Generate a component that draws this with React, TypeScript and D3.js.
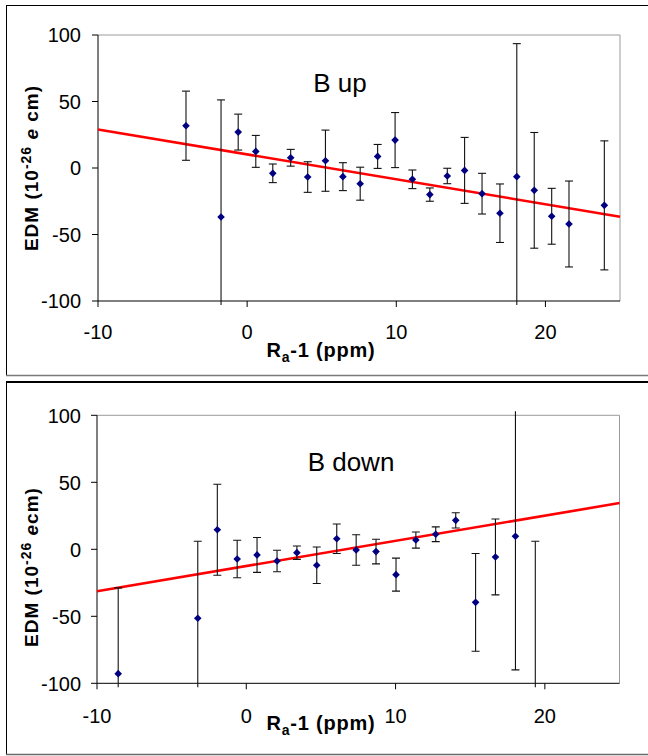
import * as d3 from "d3";

// --- data ------------------------------------------------------------------
const upX = [-4.1, -1.75, -0.6, 0.58, 1.72, 2.92, 4.06, 5.25, 6.42, 7.58, 8.75, 9.92, 11.08, 12.25, 13.42, 14.58, 15.75, 16.95, 18.08, 19.25, 20.42, 21.58, 23.95];
const upY = [31.8, -36.8, 27, 12.5, -4, 7.7, -6.8, 5.5, -6.5, -11.8, 8.7, 21, -8.5, -20, -6, -1.8, -19.3, -34, -6.5, -16.8, -36.3, -42.1, -28.1];
const upErr = [26, 88, 13.5, 12, 7, 6.3, 11.5, 23, 10.5, 12.4, 9, 20.7, 7, 5, 5.8, 24.8, 15.3, 22, 100, 43.5, 21, 32.3, 48.5];
const upFit: [number, number][] = [[-10, 29], [25, -36.6]];

const downX = [-8.58, -3.25, -1.94, -0.61, 0.72, 2.06, 3.39, 4.72, 6.06, 7.36, 8.69, 10.03, 11.36, 12.69, 14.03, 15.36, 16.69, 18.03, 19.36];
const downY = [-92.8, -51.5, 14.6, -7.2, -4.2, -8.7, -2.5, -11.9, 7.9, -0.5, -1.7, -18.9, 6.9, 11.2, 21.6, -39.6, -5.7, 9.7, -110];
const downErr = [64, 57.5, 34, 14, 13, 8, 5, 13.6, 11, 11.4, 9.2, 12.3, 6, 5.5, 5.7, 36.5, 28.3, 99.7, 116];
const downFit: [number, number][] = [[-10, -31.3], [25, 34.5]];

const xTicks = [-10, 0, 10, 20];
const yTicks = [100, 50, 0, -50, -100];
const X_DOMAIN: [number, number] = [-10, 25];
const Y_DOMAIN: [number, number] = [-100, 100];

const FONT = "Arial, 'Liberation Sans', sans-serif";
const MARKER = "#000080";
const CAP = 4; // half cap width
const DIAMOND = 4.3; // half diagonal

interface PanelProps {
  id: string;
  title: string;
  xs: number[];
  ys: number[];
  errs: number[];
  fit: [number, number][];
  plot: { l: number; r: number; t: number; b: number };
  titlePos: [number, number];
  yLabelY: number;
  unitSpace: boolean;
  tickRight: number;
  xTickBase: number;
  xLabelBase: number;
}

function Panel(p: PanelProps) {
  const x = d3.scaleLinear().domain(X_DOMAIN).range([p.plot.l, p.plot.r]);
  const y = d3.scaleLinear().domain(Y_DOMAIN).range([p.plot.b, p.plot.t]);
  const line = d3
    .line<[number, number]>()
    .x((d) => x(d[0]))
    .y((d) => y(d[1]));
  const diamond = d3.symbol(d3.symbolDiamond2, DIAMOND * DIAMOND * 2)();
  const inRange = (v: number) => v >= Y_DOMAIN[0] && v <= Y_DOMAIN[1];

  return (
    <g>
      <defs>
        <clipPath id={`clip-${p.id}`}>
          <rect
            x={p.plot.l - 10}
            y={p.plot.t - 4}
            width={p.plot.r - p.plot.l + 20}
            height={p.plot.b - p.plot.t + 8}
          />
        </clipPath>
      </defs>

      {/* plot area frame: grey top/right, black axes */}
      <line x1={p.plot.l} x2={p.plot.r} y1={p.plot.t} y2={p.plot.t} stroke="#9a9a9a" />
      <line x1={p.plot.r} x2={p.plot.r} y1={p.plot.t} y2={p.plot.b} stroke="#9a9a9a" />
      <line x1={p.plot.l} x2={p.plot.l} y1={p.plot.t} y2={p.plot.b} stroke="#000" />
      <line x1={p.plot.l} x2={p.plot.r} y1={p.plot.b} y2={p.plot.b} stroke="#000" />

      {yTicks.map((t) => (
        <g key={t}>
          <line x1={p.plot.l - 6} x2={p.plot.l} y1={y(t)} y2={y(t)} stroke="#000" />
          <text
            x={p.tickRight}
            y={y(t)}
            dy="0.36em"
            textAnchor="end"
            fontSize={20}
            fontFamily={FONT}
          >
            {t}
          </text>
        </g>
      ))}
      {xTicks.map((t) => (
        <g key={t}>
          <line x1={x(t)} x2={x(t)} y1={p.plot.b} y2={p.plot.b + 6} stroke="#000" />
          <text x={x(t)} y={p.xTickBase} textAnchor="middle" fontSize={20} fontFamily={FONT}>
            {t}
          </text>
        </g>
      ))}

      {/* fit line */}
      <path d={line(p.fit) ?? ""} stroke="#ff0000" strokeWidth={2.6} fill="none" />

      {/* error bars */}
      <g clipPath={`url(#clip-${p.id})`} stroke="#111" strokeWidth={1.1}>
        {p.xs.map((xv, i) => {
          const cx = x(xv);
          const hi = y(p.ys[i] + p.errs[i]);
          const lo = y(p.ys[i] - p.errs[i]);
          return (
            <g key={i}>
              <line x1={cx} x2={cx} y1={hi} y2={lo} />
              <line x1={cx - CAP} x2={cx + CAP} y1={hi} y2={hi} />
              <line x1={cx - CAP} x2={cx + CAP} y1={lo} y2={lo} />
            </g>
          );
        })}
      </g>

      {/* markers */}
      {p.xs.map((xv, i) =>
        inRange(p.ys[i]) ? (
          <path
            key={i}
            d={diamond ?? ""}
            transform={`translate(${x(xv)},${y(p.ys[i])})`}
            fill={MARKER}
          />
        ) : null,
      )}

      <text
        x={p.titlePos[0]}
        y={p.titlePos[1]}
        textAnchor="middle"
        fontSize={26}
        fontFamily={FONT}
      >
        {p.title}
      </text>

      {/* y axis title */}
      <text
        transform={`translate(38,${p.yLabelY}) rotate(-90)`}
        textAnchor="middle"
        fontSize={19}
        fontWeight="bold"
        letterSpacing={1}
        fontFamily={FONT}
      >
        EDM (10
        <tspan dy={-7} fontSize={14}>
          -26
        </tspan>
        <tspan dy={7}>{" "}</tspan>
        <tspan fontStyle="italic">e</tspan>
        {p.unitSpace ? " cm)" : "cm)"}
      </text>

      {/* x axis title */}
      <text
        x={321}
        y={p.xLabelBase}
        textAnchor="middle"
        fontSize={20}
        fontWeight="bold"
        letterSpacing={0.8}
        fontFamily={FONT}
      >
        R
        <tspan dy={5} fontSize={14}>
          a
        </tspan>
        <tspan dy={-5}>-1 (ppm)</tspan>
      </text>
    </g>
  );
}

export default function App() {
  return (
    <div style={{ position: "absolute", left: 0, top: 0 }}>
      <svg width={648} height={756} style={{ display: "block", background: "#fff" }}>
        {/* outer frames */}
        <line x1={6} x2={648} y1={5.5} y2={5.5} stroke="#000" />
        <line x1={6.5} x2={6.5} y1={5} y2={375} stroke="#000" />
        <line x1={6} x2={648} y1={375.5} y2={375.5} stroke="#7a7a7a" strokeWidth={1.5} />
        <line x1={6} x2={648} y1={382} y2={382} stroke="#000" strokeWidth={2} />
        <line x1={6.5} x2={6.5} y1={381} y2={754} stroke="#000" />
        <line x1={6} x2={648} y1={754.5} y2={754.5} stroke="#6a6a6a" strokeWidth={1.5} />

        <Panel
          id="up"
          title="B up"
          xs={upX}
          ys={upY}
          errs={upErr}
          fit={upFit}
          plot={{ l: 98, r: 620, t: 35, b: 301 }}
          titlePos={[340, 92]}
          yLabelY={168}
          unitSpace={true}
          tickRight={81}
          xTickBase={339}
          xLabelBase={357}
        />
        <Panel
          id="down"
          title="B down"
          xs={downX}
          ys={downY}
          errs={downErr}
          fit={downFit}
          plot={{ l: 97, r: 619.5, t: 415.3, b: 683.3 }}
          titlePos={[351, 471]}
          yLabelY={567}
          unitSpace={false}
          tickRight={81}
          xTickBase={723}
          xLabelBase={730}
        />
      </svg>
    </div>
  );
}
